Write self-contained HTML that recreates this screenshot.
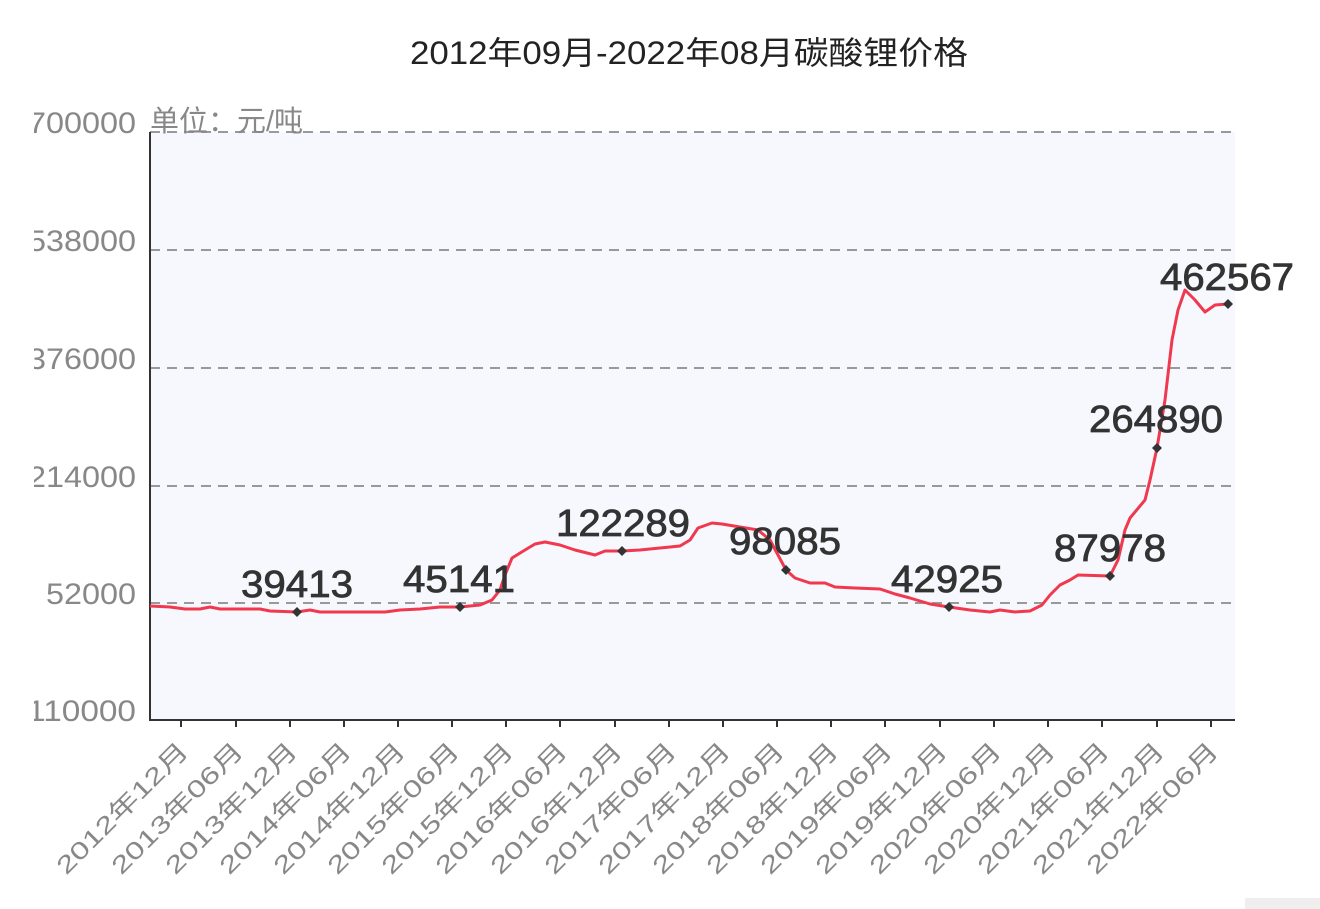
<!DOCTYPE html>
<html><head><meta charset="utf-8"><style>
html,body{margin:0;padding:0;background:#fff;}
svg{display:block;}
text{font-family:"Liberation Sans","Noto Sans CJK SC",sans-serif;}
</style></head><body>
<svg width="1320" height="909" viewBox="0 0 1320 909" xmlns="http://www.w3.org/2000/svg">
<rect x="0" y="0" width="1320" height="909" fill="#fff"/>
<text x="689" y="64" font-size="32" fill="#222" text-anchor="middle" textLength="558" lengthAdjust="spacingAndGlyphs">2012年09月-2022年08月碳酸锂价格</text>
<rect x="150" y="132" width="1085" height="588" fill="#f7f8fd"/>
<g stroke="#999" stroke-width="2" stroke-dasharray="10,7">
<line x1="150" y1="132" x2="1235" y2="132"/>
<line x1="150" y1="250" x2="1235" y2="250"/>
<line x1="150" y1="368" x2="1235" y2="368"/>
<line x1="150" y1="486" x2="1235" y2="486"/>
<line x1="150" y1="603" x2="1235" y2="603"/>
</g>
<line x1="150" y1="132" x2="150" y2="721" stroke="#333" stroke-width="2"/>
<line x1="149" y1="720" x2="1235" y2="720" stroke="#333" stroke-width="2"/>
<g fill="#888" font-size="30" text-anchor="end">
<text x="136" y="133" textLength="108" lengthAdjust="spacingAndGlyphs">700000</text>
<text x="136" y="251" textLength="108" lengthAdjust="spacingAndGlyphs">538000</text>
<text x="136" y="369" textLength="108" lengthAdjust="spacingAndGlyphs">376000</text>
<text x="136" y="487" textLength="108" lengthAdjust="spacingAndGlyphs">214000</text>
<text x="136" y="604" textLength="90" lengthAdjust="spacingAndGlyphs">52000</text>
<text x="136" y="721" textLength="120" lengthAdjust="spacingAndGlyphs">-110000</text>
</g>
<rect x="0" y="90" width="34" height="650" fill="#fff"/>
<text x="150" y="131" font-size="29" fill="#888">单位：元/吨</text>
<g stroke="#333" stroke-width="2">
<line x1="181" y1="720" x2="181" y2="727"/><line x1="236" y1="720" x2="236" y2="727"/><line x1="290" y1="720" x2="290" y2="727"/><line x1="344" y1="720" x2="344" y2="727"/><line x1="398" y1="720" x2="398" y2="727"/><line x1="452" y1="720" x2="452" y2="727"/><line x1="506" y1="720" x2="506" y2="727"/><line x1="560" y1="720" x2="560" y2="727"/><line x1="615" y1="720" x2="615" y2="727"/><line x1="669" y1="720" x2="669" y2="727"/><line x1="723" y1="720" x2="723" y2="727"/><line x1="777" y1="720" x2="777" y2="727"/><line x1="831" y1="720" x2="831" y2="727"/><line x1="885" y1="720" x2="885" y2="727"/><line x1="940" y1="720" x2="940" y2="727"/><line x1="994" y1="720" x2="994" y2="727"/><line x1="1048" y1="720" x2="1048" y2="727"/><line x1="1102" y1="720" x2="1102" y2="727"/><line x1="1157" y1="720" x2="1157" y2="727"/><line x1="1211" y1="720" x2="1211" y2="727"/>
</g>
<g fill="#888" font-size="24" text-anchor="end">
<text transform="translate(190,752) rotate(-45)" textLength="175" lengthAdjust="spacingAndGlyphs">2012年12月</text>
<text transform="translate(245,752) rotate(-45)" textLength="175" lengthAdjust="spacingAndGlyphs">2013年06月</text>
<text transform="translate(299,752) rotate(-45)" textLength="175" lengthAdjust="spacingAndGlyphs">2013年12月</text>
<text transform="translate(353,752) rotate(-45)" textLength="175" lengthAdjust="spacingAndGlyphs">2014年06月</text>
<text transform="translate(407,752) rotate(-45)" textLength="175" lengthAdjust="spacingAndGlyphs">2014年12月</text>
<text transform="translate(461,752) rotate(-45)" textLength="175" lengthAdjust="spacingAndGlyphs">2015年06月</text>
<text transform="translate(515,752) rotate(-45)" textLength="175" lengthAdjust="spacingAndGlyphs">2015年12月</text>
<text transform="translate(569,752) rotate(-45)" textLength="175" lengthAdjust="spacingAndGlyphs">2016年06月</text>
<text transform="translate(624,752) rotate(-45)" textLength="175" lengthAdjust="spacingAndGlyphs">2016年12月</text>
<text transform="translate(678,752) rotate(-45)" textLength="175" lengthAdjust="spacingAndGlyphs">2017年06月</text>
<text transform="translate(732,752) rotate(-45)" textLength="175" lengthAdjust="spacingAndGlyphs">2017年12月</text>
<text transform="translate(786,752) rotate(-45)" textLength="175" lengthAdjust="spacingAndGlyphs">2018年06月</text>
<text transform="translate(840,752) rotate(-45)" textLength="175" lengthAdjust="spacingAndGlyphs">2018年12月</text>
<text transform="translate(894,752) rotate(-45)" textLength="175" lengthAdjust="spacingAndGlyphs">2019年06月</text>
<text transform="translate(949,752) rotate(-45)" textLength="175" lengthAdjust="spacingAndGlyphs">2019年12月</text>
<text transform="translate(1003,752) rotate(-45)" textLength="175" lengthAdjust="spacingAndGlyphs">2020年06月</text>
<text transform="translate(1057,752) rotate(-45)" textLength="175" lengthAdjust="spacingAndGlyphs">2020年12月</text>
<text transform="translate(1111,752) rotate(-45)" textLength="175" lengthAdjust="spacingAndGlyphs">2021年06月</text>
<text transform="translate(1166,752) rotate(-45)" textLength="175" lengthAdjust="spacingAndGlyphs">2021年12月</text>
<text transform="translate(1220,752) rotate(-45)" textLength="175" lengthAdjust="spacingAndGlyphs">2022年06月</text>
</g>
<polyline fill="none" stroke="#f0384e" stroke-width="3" stroke-linejoin="round" points="150,606 170,607 185,609 200,609 210,607 220,609 260,609 270,611 297,612 310,610 320,612 385,612 400,610 420,609 440,607 460,607 480,605 492,600 500,590 505,575 512,558 525,550 535,544 545,542 560,545 575,550 595,555 605,551 622,551 640,550 660,548 680,546 690,540 698,528 712,523 722,524 740,527 758,530 770,540 778,555 786,570 795,578 810,583 825,583 835,587 855,588 880,589 895,594 910,598 930,604 949,607 970,610 990,612 1000,610 1015,612 1030,611 1042,605 1050,595 1060,585 1070,580 1078,575 1110,576 1118,560 1125,530 1130,518 1145,500 1150,480 1157,448 1165,400 1172,340 1178,310 1185,290 1195,300 1205,312 1215,305 1228,304"/>
<g fill="#333">
<path d="M297,607 l5,5 l-5,5 l-5,-5z"/><path d="M460,602 l5,5 l-5,5 l-5,-5z"/><path d="M622,546 l5,5 l-5,5 l-5,-5z"/><path d="M786,565 l5,5 l-5,5 l-5,-5z"/><path d="M949,602 l5,5 l-5,5 l-5,-5z"/><path d="M1110,571 l5,5 l-5,5 l-5,-5z"/><path d="M1157,443 l5,5 l-5,5 l-5,-5z"/><path d="M1228,299 l5,5 l-5,5 l-5,-5z"/>
</g>
<g fill="#333" stroke="#333" stroke-width="0.8" font-size="38" text-anchor="middle">
<text x="297" y="597" textLength="112" lengthAdjust="spacingAndGlyphs">39413</text>
<text x="459" y="592" textLength="112" lengthAdjust="spacingAndGlyphs">45141</text>
<text x="623" y="536" textLength="134" lengthAdjust="spacingAndGlyphs">122289</text>
<text x="785" y="554" textLength="112" lengthAdjust="spacingAndGlyphs">98085</text>
<text x="947" y="592" textLength="112" lengthAdjust="spacingAndGlyphs">42925</text>
<text x="1110" y="561" textLength="112" lengthAdjust="spacingAndGlyphs">87978</text>
<text x="1156" y="432" textLength="134" lengthAdjust="spacingAndGlyphs">264890</text>
<text x="1227" y="290" textLength="134" lengthAdjust="spacingAndGlyphs">462567</text>
</g>
<rect x="1245" y="898" width="75" height="11" fill="#eee"/>
</svg>
</body></html>
